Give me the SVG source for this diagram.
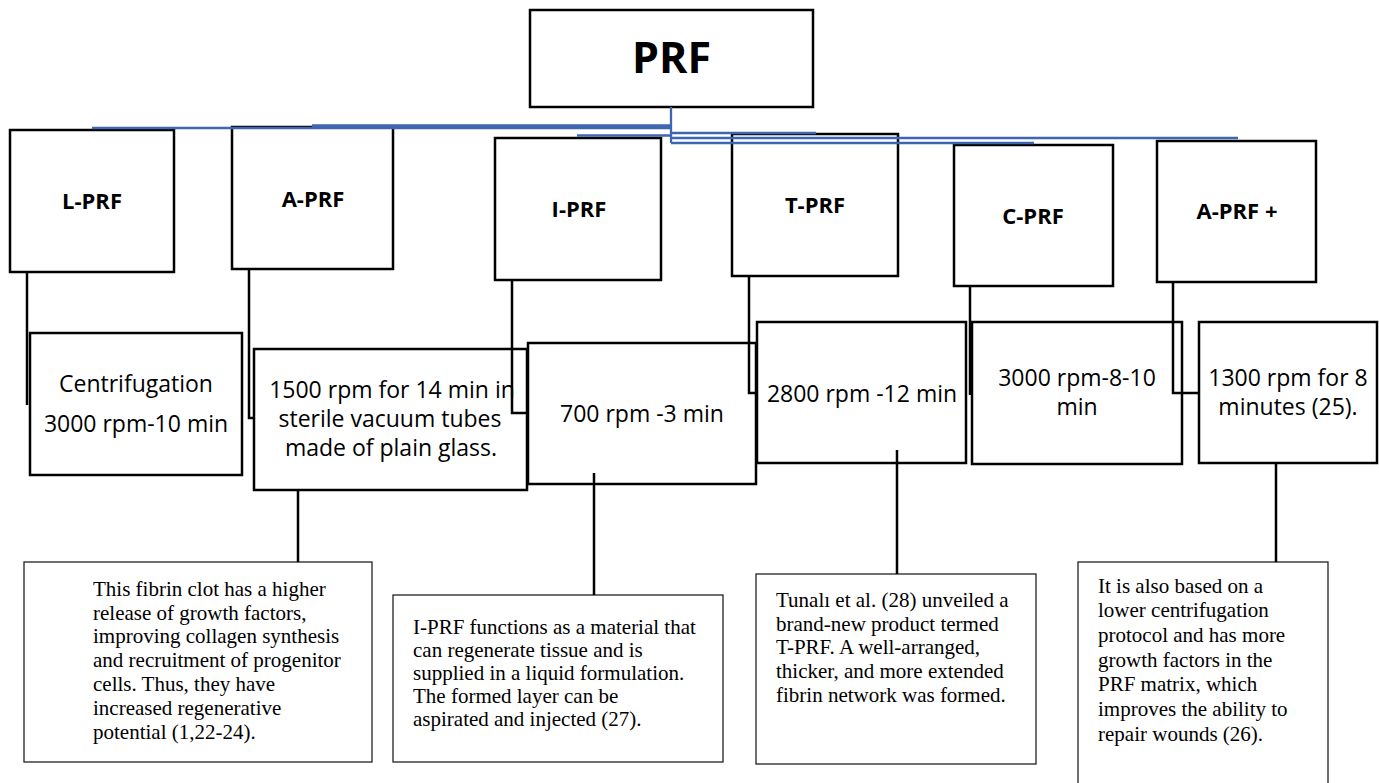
<svg xmlns="http://www.w3.org/2000/svg" width="1379" height="783" viewBox="0 0 1379 783">
<style>
.bx{fill:none;stroke:#000;stroke-width:2.5}
.dx{fill:none;stroke:#222;stroke-width:1.3}
.lb{font-family:"Open Sans","Liberation Sans",sans-serif;font-weight:700;font-size:22px;text-anchor:middle;fill:#000}
.md{font-family:"Open Sans","Liberation Sans",sans-serif;font-size:23px;text-anchor:middle;fill:#000}
.ds{font-family:"Liberation Serif","Times New Roman",serif;font-size:21px;fill:#000}
.bl{stroke:#3F66B0;stroke-width:2.3;fill:none}
.cn{stroke:#000;stroke-width:2.5;fill:none}
</style>
<rect width="1379" height="783" fill="#fff"/>
<g id="prf">
<rect class="bx" x="530" y="10" width="283" height="97"/>
<text x="671.5" y="73" font-family="Open Sans, Liberation Sans, sans-serif" font-weight="700" font-size="43" text-anchor="middle">PRF</text>
</g>
<g id="l-prf"><rect class="bx" x="10" y="130" width="164" height="142"/><text class="lb" x="92" y="209">L-PRF</text></g>
<g id="a-prf"><rect class="bx" x="232" y="127" width="161" height="142"/><text class="lb" x="313" y="207">A-PRF</text></g>
<g id="i-prf"><rect class="bx" x="495" y="138" width="166" height="142"/><text class="lb" x="579" y="217">I-PRF</text></g>
<g id="t-prf"><rect class="bx" x="732" y="134" width="166" height="142"/><text class="lb" x="815" y="213">T-PRF</text></g>
<g id="c-prf"><rect class="bx" x="954" y="145" width="159" height="141"/><text class="lb" x="1033" y="224">C-PRF</text></g>
<g id="a-prf-plus"><rect class="bx" x="1157" y="141" width="159" height="141"/><text class="lb" x="1237" y="219">A-PRF +</text></g>
<g id="l-prf-protocol"><rect class="bx" x="30" y="333" width="212" height="142"/><text class="md" x="136" y="392">Centrifugation</text><text class="md" x="136" y="432">3000 rpm-10 min</text></g>
<g id="a-prf-protocol"><rect class="bx" x="254" y="349" width="273" height="141"/><text class="md" x="392" y="398">1500 rpm for 14 min in</text><text class="md" x="390" y="427">sterile vacuum tubes</text><text class="md" x="391" y="456">made of plain glass.</text></g>
<g id="i-prf-protocol"><rect class="bx" x="528" y="343" width="228" height="141"/><text class="md" x="642" y="422">700 rpm -3 min</text></g>
<g id="t-prf-protocol"><rect class="bx" x="757" y="322" width="209" height="141"/><text class="md" x="862" y="402">2800 rpm -12 min</text></g>
<g id="c-prf-protocol"><rect class="bx" x="972" y="322" width="210" height="142"/><text class="md" x="1077" y="386">3000 rpm-8-10</text><text class="md" x="1077" y="415">min</text></g>
<g id="a-prf-plus-protocol"><rect class="bx" x="1199" y="322" width="178" height="141"/><text class="md" x="1288" y="386">1300 rpm for 8</text><text class="md" x="1288" y="415">minutes (25).</text></g>
<g id="a-prf-desc"><rect class="dx" x="24" y="562" width="348" height="200"/>
<text class="ds" x="93" y="596">This fibrin clot has a higher</text>
<text class="ds" x="93" y="620">release of growth factors,</text>
<text class="ds" x="93" y="643">improving collagen synthesis</text>
<text class="ds" x="93" y="667">and recruitment of progenitor</text>
<text class="ds" x="93" y="691">cells. Thus, they have</text>
<text class="ds" x="93" y="715">increased regenerative</text>
<text class="ds" x="93" y="739">potential (1,22-24).</text></g>
<g id="i-prf-desc"><rect class="dx" x="393" y="595" width="330" height="167"/>
<text class="ds" x="413" y="634">I-PRF functions as a material that</text>
<text class="ds" x="413" y="657">can regenerate tissue and is</text>
<text class="ds" x="413" y="680">supplied in a liquid formulation.</text>
<text class="ds" x="413" y="703">The formed layer can be</text>
<text class="ds" x="413" y="726">aspirated and injected (27).</text></g>
<g id="t-prf-desc"><rect class="dx" x="756" y="574" width="280" height="190"/>
<text class="ds" x="776" y="607">Tunalı et al. (28) unveiled a</text>
<text class="ds" x="776" y="631">brand-new product termed</text>
<text class="ds" x="776" y="654">T-PRF. A well-arranged,</text>
<text class="ds" x="776" y="678">thicker, and more extended</text>
<text class="ds" x="776" y="702">fibrin network was formed.</text></g>
<g id="a-prf-plus-desc"><rect class="dx" x="1078" y="562" width="250" height="230"/>
<text class="ds" x="1098" y="593">It is also based on a</text>
<text class="ds" x="1098" y="617">lower centrifugation</text>
<text class="ds" x="1098" y="642">protocol and has more</text>
<text class="ds" x="1098" y="667">growth factors in the</text>
<text class="ds" x="1098" y="691">PRF matrix, which</text>
<text class="ds" x="1098" y="716">improves the ability to</text>
<text class="ds" x="1098" y="741">repair wounds (26).</text></g>
<g id="connectors">
<path class="bl" d="M671,107 V143 M312,125.5 H671 M92,128 H671 M577,135.5 H671 M671,133 H816 M671,138 H1238 M671,143 H1034"/>
<path class="cn" d="M27,272 V405 M249,269 V418 H254 M512,280 V413 H527 M749,276 V393 H757 M1173,282 V393 H1199 M298,490 V562 M594,473 V595 M897,450 V574 M1276,463 V562"/>
<path class="cn" stroke-width="3" d="M970,286 V395"/>
</g>
</svg>
